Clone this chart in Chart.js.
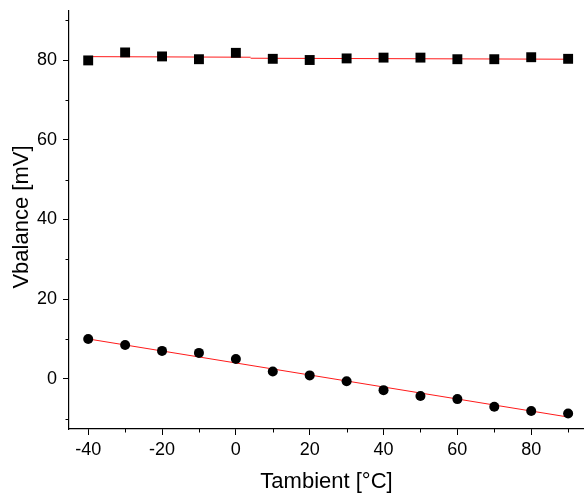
<!DOCTYPE html>
<html>
<head>
<meta charset="utf-8">
<script src="https://cdn.jsdelivr.net/npm/chart.js@4"></script>
<style>
  html, body { margin: 0; padding: 0; background: #fff; }
  #wrap { width: 584px; height: 493px; }
</style>
</head>
<body>
<div id="wrap"><canvas id="vChart"></canvas></div>
<script>
// ambient temperature steps [°C]
const temps = [-40, -30, -20, -10, 0, 10, 20, 30, 40, 50, 60, 70, 80, 90];

// measured balance voltage [mV]
const upperSeries = [79.9, 81.9, 80.9, 80.2, 81.8, 80.3, 80.0, 80.4, 80.6, 80.6, 80.2, 80.2, 80.7, 80.3];
const lowerSeries = [10.0, 8.5, 7.0, 6.5, 4.95, 1.85, 0.85, -0.6, -2.85, -4.3, -5.1, -7.0, -8.1, -8.7];

// linear fits (endpoints)
const upperFitA = [[-40, 80.85], [4, 80.7]];
const upperFitB = [[4, 80.45], [90, 80.2]];
const lowerFit = [[-40, 10.0], [90, -9.6]];

const xTitle = "Tambient [°C]";
const yTitle = "Vbalance [mV]";

const font = "'Liberation Sans', Arial, sans-serif";

function pts(xs, ys) {
  return xs.map((x, i) => ({ x: x, y: ys[i] }));
}
function line(pairs) {
  return pairs.map((p) => ({ x: p[0], y: p[1] }));
}

function isMajor(v) {
  return Math.round(v) % 20 === 0;
}

// no extra edge padding from tick labels
function noPad(s) {
  s.paddingTop = 0;
  s.paddingBottom = 0;
  s.paddingLeft = 0;
  s.paddingRight = 0;
}

// short minor ticks + rotated y title
const extrasPlugin = {
  id: "extras",
  afterDraw(chart) {
    const ctx = chart.ctx;
    const xs = chart.scales.x;
    const ys = chart.scales.y;
    ctx.save();
    ctx.strokeStyle = "#000";
    ctx.lineWidth = 1;
    xs.ticks.forEach((t) => {
      if (isMajor(t.value)) return;
      const px = Math.round(xs.getPixelForValue(t.value)) + 0.5;
      ctx.beginPath();
      ctx.moveTo(px, xs.top);
      ctx.lineTo(px, xs.top + 3.5);
      ctx.stroke();
    });
    ys.ticks.forEach((t) => {
      if (isMajor(t.value)) return;
      const py = Math.round(ys.getPixelForValue(t.value)) + 0.5;
      ctx.beginPath();
      ctx.moveTo(ys.right, py);
      ctx.lineTo(ys.right - 3.5, py);
      ctx.stroke();
    });

    ctx.translate(22, ys.getPixelForValue(40.6));
    ctx.rotate(-Math.PI / 2);
    ctx.fillStyle = "#000";
    ctx.font = "22px " + font;
    ctx.textAlign = "center";
    ctx.textBaseline = "middle";
    ctx.fillText(yTitle, 0, 0);
    ctx.restore();
  },
};

const fitStyle = {
  type: "line",
  borderColor: "#ff1a1a",
  borderWidth: 1,
  pointRadius: 0,
  fill: false,
  order: 2,
};

new Chart(document.getElementById("vChart"), {
  type: "scatter",
  data: {
    datasets: [
      Object.assign({ data: line(upperFitA) }, fitStyle),
      Object.assign({ data: line(upperFitB) }, fitStyle),
      Object.assign({ data: line(lowerFit) }, fitStyle),
      {
        data: pts(temps, upperSeries),
        pointStyle: "rect",
        pointRadius: 7,
        backgroundColor: "#000",
        borderColor: "#000",
        borderWidth: 0,
        order: 1,
      },
      {
        data: pts(temps, lowerSeries),
        pointStyle: "circle",
        pointRadius: 5,
        backgroundColor: "#000",
        borderColor: "#000",
        borderWidth: 0,
        order: 1,
      },
    ],
  },
  options: {
    responsive: true,
    maintainAspectRatio: false,
    animation: false,
    layout: { autoPadding: false, padding: { top: 11, right: 0, left: 0, bottom: 0 } },
    plugins: {
      legend: { display: false },
      tooltip: { enabled: false },
    },
    scales: {
      x: {
        type: "linear",
        min: -45.2,
        max: 94.3,
        afterFit: (s) => { s.height = 64; noPad(s); },
        border: { display: true, color: "#000", width: 1.2 },
        grid: {
          drawOnChartArea: false,
          tickLength: 6,
          tickColor: (c) => (isMajor(c.tick.value) ? "#000" : "transparent"),
        },
        ticks: {
          stepSize: 10,
          includeBounds: false,
          maxRotation: 0,
          autoSkip: false,
          padding: 4,
          color: "#000",
          font: { family: font, size: 18 },
          callback: (v) => (isMajor(v) ? v : ""),
        },
        title: {
          display: true,
          text: xTitle,
          color: "#000",
          font: { family: font, size: 22, lineHeight: 1 },
          padding: { top: 0, bottom: 0 },
        },
      },
      y: {
        type: "linear",
        min: -12.6,
        max: 92.3,
        afterFit: (s) => { s.width = 69; noPad(s); },
        border: { display: true, color: "#000", width: 1.2 },
        grid: {
          drawOnChartArea: false,
          tickLength: 6,
          tickColor: (c) => (isMajor(c.tick.value) ? "#000" : "transparent"),
        },
        ticks: {
          stepSize: 10,
          includeBounds: false,
          autoSkip: false,
          padding: 6,
          color: "#000",
          font: { family: font, size: 18 },
          callback: (v) => (isMajor(v) ? v : ""),
        },
      },
    },
  },
  plugins: [extrasPlugin],
});
</script>
</body>
</html>
